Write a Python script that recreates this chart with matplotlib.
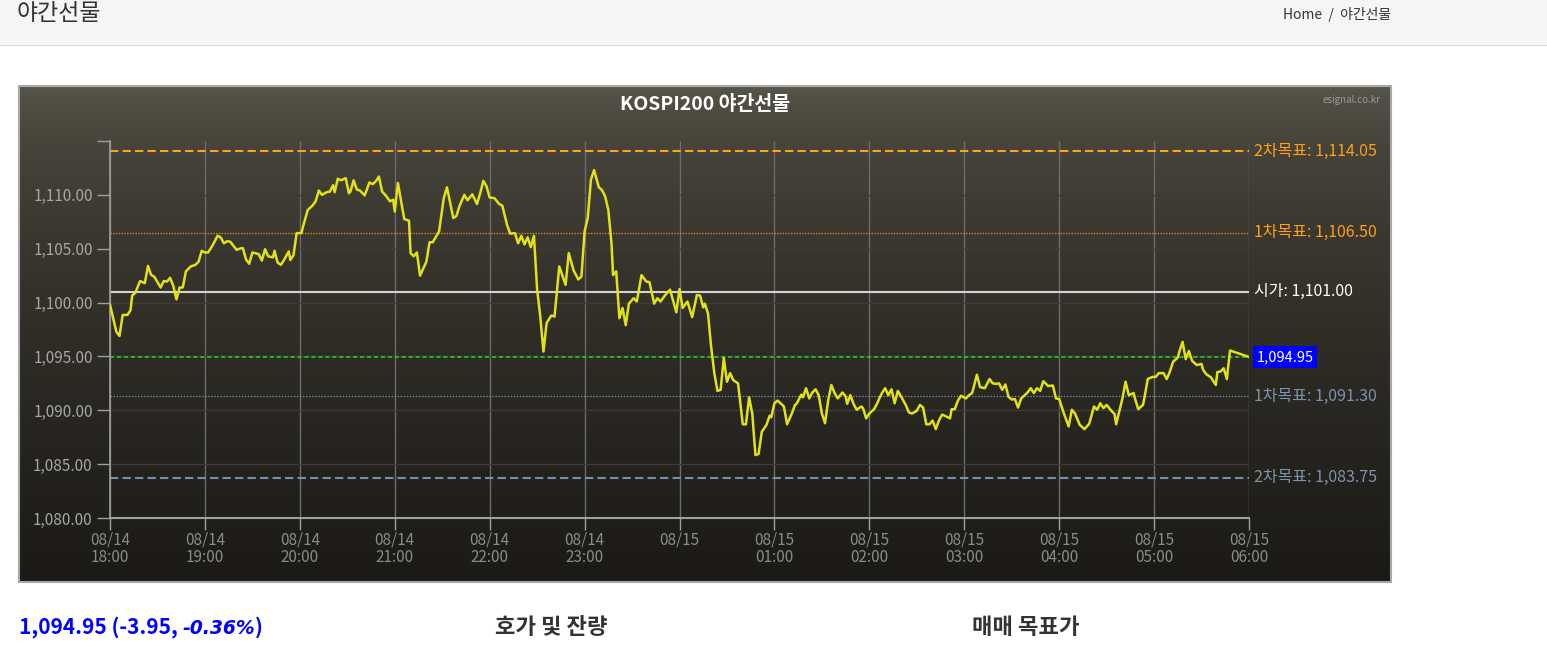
import matplotlib
matplotlib.use("Agg")
import matplotlib.pyplot as plt
import matplotlib.patches as mpatches
import numpy as np

plt.rcParams['font.family'] = ['Noto Sans CJK KR', 'DejaVu Sans']
plt.rcParams['lines.scale_dashes'] = False

# ---------------- data ----------------
# minutes after 08/14 18:00
minutes = [0, 4, 6, 8, 11, 13, 14, 16, 19, 22, 24, 26, 28, 32, 34, 36, 38, 40, 42, 44,
           46, 48, 51, 54, 56, 58, 60, 62, 65, 68, 70, 72, 74, 76, 80, 83, 84, 86, 88, 90,
           94, 96, 98, 100, 103, 104, 106, 108, 110, 113, 114, 116, 118, 121, 122, 125, 128, 130, 132, 134,
           137, 139, 141, 142, 144, 146, 149, 151, 152, 154, 156, 158, 161, 164, 166, 168, 170, 172, 174, 177,
           179, 180, 182, 184, 186, 189, 190, 192, 194, 196, 200, 202, 204, 208, 211, 213, 217, 219, 221, 224,
           226, 229, 232, 234, 236, 238, 240, 243, 246, 248, 251, 253, 256, 258, 260, 262, 264, 266, 268, 270,
           272, 274, 276, 279, 281, 284, 288, 290, 293, 296, 298, 300, 302, 304, 306, 309, 311, 313, 315, 317,
           318, 320, 322, 324, 326, 328, 331, 333, 336, 339, 341, 344, 346, 348, 351, 354, 358, 360, 362, 365,
           368, 371, 373, 375, 376, 378, 380, 382, 384, 386, 388, 390, 392, 394, 397, 400, 402, 404, 406, 408,
           410, 412, 415, 417, 418, 420, 422, 425, 426, 428, 431, 433, 434, 437, 438, 440, 442, 444, 446, 448,
           450, 452, 454, 456, 458, 460, 463, 465, 466, 468, 470, 472, 475, 476, 478, 480, 483, 485, 486, 488,
           490, 492, 494, 496, 498, 500, 503, 505, 507, 510, 512, 514, 516, 518, 520, 522, 524, 526, 529, 531,
           532, 534, 536, 538, 541, 543, 545, 548, 550, 553, 556, 558, 560, 562, 564, 566, 568, 570, 572, 574,
           576, 580, 582, 584, 586, 588, 590, 593, 596, 598, 600, 603, 606, 608, 610, 613, 616, 619, 622, 624,
           626, 628, 630, 633, 635, 636, 640, 642, 644, 647, 648, 650, 653, 654, 656, 659, 661, 663, 666, 668,
           670, 672, 675, 676, 678, 680, 682, 684, 687, 690, 691, 693, 696, 699, 700, 702, 704, 706, 708, 720]
prices = [1099.80, 1097.30, 1096.90, 1098.85, 1098.85, 1099.30, 1100.65, 1100.90, 1102.00, 1101.80,
          1103.40, 1102.57, 1102.40, 1101.40, 1102.00, 1101.95, 1102.30, 1101.55, 1100.30, 1101.40,
          1101.40, 1102.90, 1103.35, 1103.50, 1103.80, 1104.80, 1104.65, 1104.65, 1105.35, 1106.20,
          1106.05, 1105.50, 1105.70, 1105.65, 1104.90, 1105.05, 1105.05, 1104.00, 1103.60, 1104.65,
          1104.50, 1103.90, 1104.95, 1104.30, 1104.20, 1104.80, 1103.70, 1103.50, 1103.95, 1104.75,
          1103.95, 1104.40, 1106.45, 1106.45, 1107.05, 1108.60, 1109.00, 1109.40, 1110.40, 1110.00,
          1110.25, 1110.30, 1110.90, 1110.25, 1111.50, 1111.35, 1111.55, 1110.15, 1110.30, 1111.35,
          1110.50, 1110.40, 1109.95, 1111.15, 1111.00, 1111.25, 1111.70, 1110.30, 1110.00, 1109.40,
          1109.55, 1108.45, 1111.10, 1109.40, 1107.75, 1107.60, 1104.60, 1104.30, 1104.65, 1102.50,
          1103.80, 1105.60, 1105.60, 1106.60, 1109.70, 1110.70, 1107.85, 1108.05, 1109.00, 1110.00,
          1109.50, 1110.05, 1109.15, 1110.15, 1111.30, 1110.80, 1109.75, 1109.70, 1109.15, 1109.00,
          1107.20, 1106.40, 1106.45, 1105.50, 1106.20, 1105.40, 1106.05, 1105.15, 1106.20, 1101.20,
          1098.70, 1095.45, 1098.10, 1098.80, 1098.70, 1103.35, 1101.65, 1104.60, 1103.00, 1102.15,
          1102.40, 1106.60, 1107.85, 1111.40, 1112.30, 1110.70, 1110.45, 1109.85, 1108.60, 1105.50,
          1102.55, 1102.90, 1098.55, 1099.50, 1097.90, 1099.90, 1100.40, 1100.10, 1102.55, 1101.95,
          1101.90, 1099.90, 1100.40, 1100.10, 1100.70, 1101.20, 1099.10, 1101.25, 1099.50, 1100.10,
          1098.65, 1100.70, 1100.65, 1099.55, 1099.90, 1099.00, 1095.90, 1093.45, 1091.80, 1091.90,
          1094.85, 1092.65, 1093.45, 1092.80, 1092.50, 1088.70, 1088.70, 1091.20, 1089.70, 1085.85,
          1085.95, 1088.00, 1088.65, 1089.50, 1089.35, 1090.65, 1090.90, 1090.50, 1090.35, 1088.70,
          1089.70, 1090.50, 1090.60, 1091.45, 1091.20, 1092.05, 1091.10, 1091.65, 1091.95, 1091.40,
          1089.70, 1088.80, 1090.95, 1092.35, 1091.60, 1091.10, 1091.65, 1091.30, 1090.60, 1091.40,
          1090.60, 1090.05, 1090.35, 1090.20, 1089.25, 1089.70, 1090.10, 1090.65, 1091.00, 1091.60,
          1092.05, 1091.40, 1091.95, 1090.65, 1091.80, 1091.30, 1090.50, 1089.80, 1089.70, 1089.95,
          1090.50, 1090.25, 1088.70, 1088.70, 1089.05, 1088.25, 1089.05, 1089.60, 1089.40, 1089.25,
          1090.10, 1090.10, 1090.90, 1091.35, 1091.10, 1091.40, 1091.60, 1093.30, 1092.15, 1092.05,
          1092.90, 1092.50, 1092.45, 1092.50, 1091.90, 1092.40, 1091.25, 1091.00, 1091.05, 1090.25,
          1091.10, 1091.65, 1092.05, 1091.60, 1092.05, 1091.80, 1092.70, 1092.25, 1092.30, 1091.10,
          1091.05, 1089.70, 1088.50, 1090.05, 1089.70, 1088.65, 1088.25, 1088.75, 1090.35, 1090.05,
          1090.65, 1090.20, 1090.50, 1089.95, 1089.65, 1088.70, 1091.10, 1092.65, 1091.40, 1091.60,
          1091.05, 1090.10, 1090.50, 1091.25, 1092.90, 1093.10, 1093.10, 1093.45, 1093.45, 1092.90,
          1093.60, 1094.50, 1094.90, 1095.45, 1096.35, 1094.75, 1095.50, 1094.60, 1094.20, 1094.30,
          1093.75, 1093.35, 1093.05, 1092.35, 1093.55, 1093.60, 1093.90, 1092.90, 1095.55, 1094.95]

hour_labels = ["08/14\n18:00", "08/14\n19:00", "08/14\n20:00", "08/14\n21:00", "08/14\n22:00",
               "08/14\n23:00", "08/15", "08/15\n01:00", "08/15\n02:00", "08/15\n03:00",
               "08/15\n04:00", "08/15\n05:00", "08/15\n06:00"]
y_ticks = [1080, 1085, 1090, 1095, 1100, 1105, 1110]

level_names = ["2차목표", "1차목표", "시가", "", "1차목표", "2차목표"]
level_values = [1114.05, 1106.50, 1101.00, 1094.95, 1091.30, 1083.75]
level_colors = ["#ffa31a", "#d88c12", "#d4d4d4", "#26cc26", "#8090a2", "#7490b0"]
label_colors = ["#ff9f1a", "#ff9f1a", "#ffffff", "#ffffff", "#7d93ab", "#7d93ab"]
level_styles = [(0, (6, 3)), (0, (1, 1)), "-", (0, (3, 2)), (0, (1, 1.2)), (0, (6, 3))]
level_widths = [1.5, 1.0, 1.5, 1.2, 0.9, 1.5]

current = 1094.95
change = -3.95
change_pct = -0.36

# ---------------- figure ----------------
W, H = 1547, 653
fig = plt.figure(figsize=(W / 100, H / 100), dpi=100)
fig.patch.set_facecolor("white")

bg = fig.add_axes([0, 0, 1, 1], zorder=0)
bg.set_xlim(0, W)
bg.set_ylim(H, 0)
bg.axis("off")

# page header
bg.add_patch(mpatches.Rectangle((0, 0), W, 44, color="#f5f5f5", lw=0))
bg.plot([0, W], [44.5, 44.5], color="#dcdcdc", lw=1)
bg.text(17, 13, "야간선물", fontsize=16.5, color="#333333", va="center", ha="left")
bg.text(1391, 14, "Home  /  야간선물", fontsize=10, color="#333333", va="center", ha="right")

# chart panel with gradient
grad = np.linspace(0, 1, 256) ** 0.55
top = np.array([0x5a, 0x57, 0x4b]) / 255
bot = np.array([0x1c, 0x1a, 0x16]) / 255
img = top[None, :] * (1 - grad[:, None]) + bot[None, :] * grad[:, None]
img = np.clip(img, 0, 1)[:, None, :]
bg.imshow(img, extent=[19, 1391, 582, 86], aspect="auto", zorder=1)
bg.add_patch(mpatches.Rectangle((19, 86), 1372, 496, fill=False, ec="#a8a8a8", lw=1.5, zorder=2))
bg.text(705, 105, "KOSPI200 야간선물", fontsize=14, fontweight="bold", color="white",
        ha="center", va="center", zorder=3)
bg.text(1380, 100, "esignal.co.kr", fontsize=7, color="#9a9a9a", ha="right", va="center", zorder=3)

# ---------------- main plot ----------------
ax = fig.add_axes([110 / W, (H - 518) / H, (1249 - 110) / W, (518 - 141) / H], zorder=2)
ax.set_facecolor("none")
ax.set_xlim(0, 720)
ax.set_ylim(1080, 1115)

for h in range(0, 721, 60):
    ax.axvline(h, color="#6c6c6c", lw=1, zorder=1)
for yv in y_ticks[1:]:
    ax.axhline(yv, color="#3e3c38", lw=1, zorder=1)

for name, val, lc, tc, ls, lw in zip(level_names, level_values, level_colors, label_colors,
                                     level_styles, level_widths):
    ax.axhline(val, color=lc, lw=lw, linestyle=ls, zorder=2)
    if name:
        ax.annotate(f"{name}: {val:,.2f}", xy=(1, val), xycoords=("axes fraction", "data"),
                    xytext=(3.5, 0), textcoords="offset points", color=tc, fontsize=11.5,
                    va="center", ha="left", annotation_clip=False)
    else:
        ax.annotate(f"{val:,.2f}", xy=(1, val), xycoords=("axes fraction", "data"),
                    xytext=(5.5, 0), textcoords="offset points", color=tc, fontsize=10.5,
                    va="center", ha="left", annotation_clip=False,
                    bbox=dict(boxstyle="square,pad=0.25", fc="#0000ff", ec="none"))

ax.plot(minutes, prices, color="#e2e216", lw=1.8, zorder=3, solid_joinstyle="round")

ax.set_yticks(y_ticks + [1115])
ax.set_yticklabels([f"{v:,.2f}" for v in y_ticks] + [""])
ax.set_xticks(range(0, 721, 60))
ax.set_xticklabels(hour_labels, linespacing=1.08)

for side in ["top", "right"]:
    ax.spines[side].set_visible(False)
ax.spines["left"].set_color("#a0a0a0")
ax.spines["left"].set_linewidth(1.2)
ax.spines["bottom"].set_color("#a0a0a0")
ax.spines["bottom"].set_linewidth(1.5)
ax.tick_params(axis="y", direction="out", length=9.5, width=1, color="#a0a0a0",
               labelcolor="#a6a6a6", labelsize=11, pad=3)
ax.tick_params(axis="x", direction="out", length=8.5, width=1, color="#a0a0a0",
               labelcolor="#8a8a8a", labelsize=11, pad=1)

# ---------------- text below chart ----------------
renderer = fig.canvas.get_renderer()
t1 = bg.text(19, 627, f"{current:,.2f} ({change:.2f}, ", fontsize=15, fontweight="bold",
             color="#0000ff", ha="left", va="center")
bb = t1.get_window_extent(renderer)
t2 = fig.text(bb.x1 / W, 1 - 628 / H, f"{change_pct:.2f}%", fontsize=13.5, fontweight="bold",
              style="italic", family=["DejaVu Sans"], color="#0000ff", ha="left", va="center")
bb2 = t2.get_window_extent(renderer)
fig.text(bb2.x1 / W, 1 - 627 / H, ")", fontsize=15, fontweight="bold", color="#0000ff",
         ha="left", va="center")
bg.text(495, 627, "호가 및 잔량", fontsize=16, fontweight="bold", color="#333333",
        ha="left", va="center")
bg.text(972, 627, "매매 목표가", fontsize=16, fontweight="bold", color="#333333",
        ha="left", va="center")

fig.savefig("out.png", dpi=100)
